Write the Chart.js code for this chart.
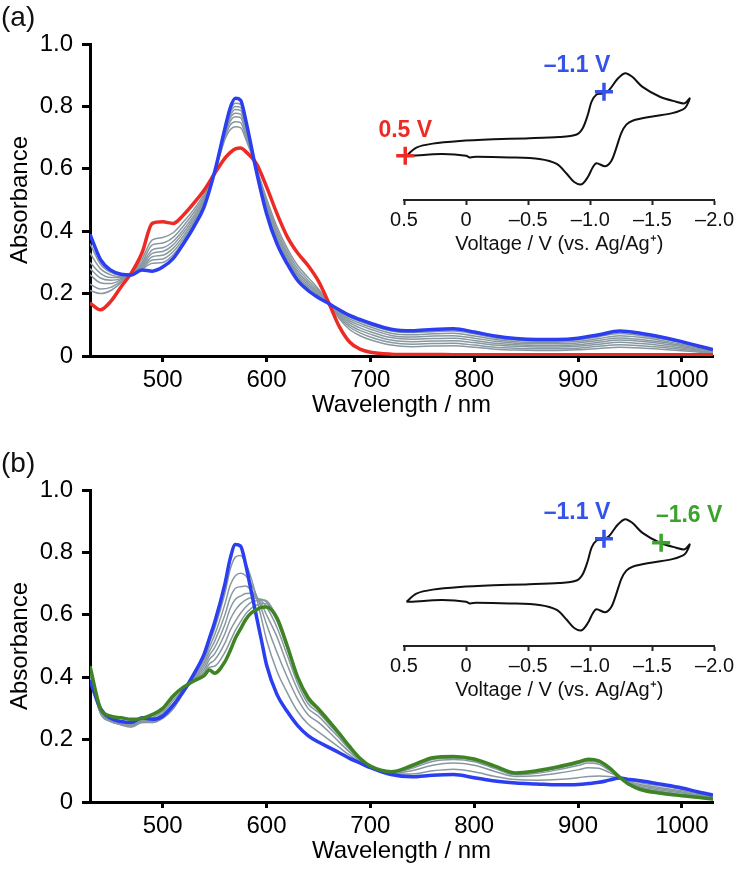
<!DOCTYPE html>
<html>
<head>
<meta charset="utf-8">
<script src="https://cdn.jsdelivr.net/npm/chart.js@4.4.1/dist/chart.umd.min.js"></script>
<style>
  body { margin: 0; background: #fff; width: 737px; height: 870px; position: relative; overflow: hidden;
         font-family: "Liberation Sans", Arial, Helvetica, sans-serif; }
  .panel { position: absolute; left: 0; width: 737px; height: 420px; }
  .panel canvas { position: absolute; }
  .tag { position: absolute; left: 1px; top: 1px; font-size: 28px; line-height: 32px; color: #111; }
</style>
</head>
<body>
<div class="panel" style="top:0">
  <canvas id="mainA" width="737" height="420" style="left:0;top:0"></canvas>
  <canvas id="insetA" width="377" height="220" style="left:360px;top:40px"></canvas>
  <div class="tag">(a)</div>
</div>
<div class="panel" style="top:446px">
  <canvas id="mainB" width="737" height="420" style="left:0;top:0"></canvas>
  <canvas id="insetB" width="377" height="220" style="left:360px;top:40px"></canvas>
  <div class="tag">(b)</div>
</div>
<script>
const FONT = '"Liberation Sans", Arial, Helvetica, sans-serif';

// axis ticks
const X_TICKS = [500, 600, 700, 800, 900, 1000];
const X_TICK_LABELS = ["500", "600", "700", "800", "900", "1000"];
const Y_TICKS = [0, 0.2, 0.4, 0.6, 0.8, 1.0];
const Y_TICK_LABELS = ["0", "0.2", "0.4", "0.6", "0.8", "1.0"];
const CV_TICKS = [0.5, 0, -0.5, -1, -1.5, -2];
const CV_TICK_LABELS = ["0.5", "0", "\u20130.5", "\u20131.0", "\u20131.5", "\u20132.0"];

// (a) spectra: 0.5 V (red) -> -1.1 V (blue)
const WL_A = [430,440,450,460,470,480,490,500,510,520,530,540,550,560,565,570,575,580,590,600,
  610,620,630,640,650,660,670,680,690,700,720,740,760,780,800,820,840,860,880,900,
  920,940,960,980,1000,1015,1030];
const RED_A = [0.17,0.148,0.175,0.222,0.267,0.33,0.425,0.43,0.425,0.452,0.49,0.532,0.585,0.634,0.652,0.664,0.667,0.655,0.618,0.543,
  0.457,0.382,0.33,0.29,0.24,0.17,0.095,0.045,0.022,0.012,0.006,0.005,0.005,0.004,0.004,0.004,0.004,0.004,0.004,0.004,
  0.004,0.004,0.004,0.004,0.004,0.004,0.004];
const BLUE_A = [0.39,0.31,0.275,0.262,0.26,0.276,0.272,0.285,0.312,0.36,0.414,0.479,0.59,0.73,0.795,0.826,0.82,0.756,0.596,0.457,
  0.36,0.295,0.242,0.21,0.187,0.168,0.148,0.13,0.117,0.105,0.086,0.081,0.085,0.087,0.077,0.064,0.056,0.053,0.053,0.057,
  0.068,0.08,0.073,0.061,0.046,0.033,0.021];
const GRAY_A1 = [0.21,0.2,0.21,0.235,0.265,0.31,0.372,0.38,0.395,0.43,0.47,0.52,0.588,0.695,0.725,0.735,0.732,0.695,0.605,0.505,
  0.415,0.345,0.29,0.252,0.215,0.168,0.12,0.085,0.065,0.052,0.035,0.03,0.032,0.033,0.028,0.022,0.019,0.018,0.018,0.02,
  0.024,0.028,0.026,0.022,0.017,0.013,0.008];
const GRAY_A2 = [0.23,0.215,0.22,0.24,0.264,0.3,0.356,0.362,0.38,0.417,0.46,0.512,0.588,0.7,0.74,0.751,0.748,0.705,0.604,0.495,
  0.404,0.335,0.28,0.243,0.209,0.168,0.125,0.093,0.074,0.061,0.043,0.038,0.04,0.041,0.035,0.028,0.025,0.023,0.023,0.025,
  0.031,0.036,0.033,0.028,0.021,0.016,0.01];
const GRAY_A3 = [0.26,0.235,0.232,0.245,0.263,0.294,0.34,0.347,0.367,0.405,0.45,0.505,0.589,0.706,0.752,0.767,0.764,0.716,0.603,0.487,
  0.394,0.326,0.271,0.235,0.203,0.168,0.13,0.1,0.082,0.07,0.051,0.046,0.048,0.049,0.043,0.035,0.031,0.029,0.029,0.031,
  0.038,0.044,0.04,0.034,0.026,0.019,0.012];
const GRAY_A4 = [0.28,0.25,0.243,0.248,0.262,0.289,0.329,0.335,0.356,0.395,0.442,0.499,0.589,0.711,0.762,0.778,0.775,0.726,0.602,0.48,
  0.385,0.318,0.263,0.228,0.198,0.168,0.134,0.107,0.09,0.078,0.059,0.054,0.056,0.057,0.05,0.041,0.036,0.034,0.034,0.036,
  0.044,0.051,0.047,0.04,0.03,0.022,0.014];
const GRAY_A5 = [0.3,0.265,0.252,0.252,0.262,0.285,0.318,0.323,0.345,0.385,0.434,0.493,0.589,0.716,0.77,0.79,0.787,0.735,0.6,0.473,
  0.377,0.311,0.256,0.222,0.194,0.168,0.138,0.113,0.098,0.086,0.066,0.061,0.064,0.065,0.057,0.047,0.041,0.039,0.039,0.042,
  0.05,0.058,0.053,0.045,0.034,0.025,0.016];
const GRAY_A6 = [0.33,0.28,0.26,0.255,0.261,0.281,0.308,0.311,0.334,0.376,0.427,0.488,0.59,0.72,0.779,0.8,0.797,0.743,0.599,0.467,
  0.37,0.305,0.25,0.217,0.191,0.168,0.141,0.119,0.105,0.093,0.073,0.068,0.071,0.073,0.064,0.053,0.046,0.044,0.044,0.047,
  0.056,0.065,0.06,0.05,0.038,0.028,0.018];
const GRAY_A7 = [0.36,0.295,0.268,0.258,0.26,0.278,0.297,0.3,0.324,0.368,0.42,0.484,0.59,0.725,0.787,0.81,0.807,0.75,0.598,0.462,
  0.364,0.3,0.246,0.213,0.189,0.168,0.145,0.125,0.111,0.099,0.08,0.075,0.078,0.08,0.071,0.058,0.051,0.048,0.048,0.052,
  0.062,0.072,0.066,0.055,0.042,0.03,0.019];

// (b) spectra: -1.1 V (blue) -> -1.6 V (green)
const WL_B = [430,440,450,460,470,480,490,500,510,520,530,540,545,550,560,565,570,575,580,585,
  590,595,600,610,620,630,640,650,660,670,680,690,700,720,740,760,780,800,820,840,
  860,880,900,910,920,930,940,950,960,980,1000,1015,1030];
const BLUE_B = [0.39,0.3,0.268,0.258,0.255,0.27,0.265,0.275,0.31,0.355,0.41,0.475,0.525,0.575,0.7,0.78,0.825,0.82,0.76,0.68,
  0.6,0.52,0.44,0.345,0.29,0.245,0.213,0.192,0.175,0.158,0.14,0.125,0.11,0.088,0.081,0.086,0.088,0.078,0.067,0.061,
  0.058,0.055,0.056,0.059,0.063,0.07,0.077,0.072,0.068,0.057,0.045,0.033,0.022];
const GREEN_B = [0.435,0.3,0.275,0.27,0.265,0.268,0.28,0.3,0.34,0.368,0.388,0.405,0.423,0.413,0.45,0.485,0.525,0.555,0.585,0.605,
  0.615,0.624,0.625,0.59,0.5,0.4,0.335,0.298,0.26,0.22,0.178,0.14,0.115,0.097,0.117,0.142,0.146,0.138,0.115,0.093,
  0.1,0.112,0.128,0.137,0.132,0.11,0.08,0.055,0.04,0.028,0.02,0.015,0.009];
const GRAY_B1 = [0.4,0.285,0.258,0.25,0.245,0.262,0.258,0.27,0.3,0.352,0.405,0.465,0.51,0.555,0.67,0.745,0.785,0.79,0.765,0.72,
  0.66,0.59,0.52,0.42,0.35,0.29,0.25,0.225,0.2,0.175,0.15,0.128,0.112,0.09,0.09,0.1,0.105,0.097,0.082,0.072,
  0.07,0.072,0.078,0.082,0.083,0.082,0.078,0.07,0.062,0.052,0.041,0.03,0.02];
const GRAY_B2 = [0.41,0.285,0.258,0.248,0.242,0.258,0.255,0.268,0.298,0.35,0.4,0.455,0.497,0.535,0.635,0.695,0.725,0.733,0.725,0.7,
  0.665,0.62,0.57,0.48,0.4,0.33,0.28,0.255,0.225,0.192,0.16,0.132,0.113,0.092,0.1,0.118,0.125,0.118,0.098,0.082,
  0.084,0.092,0.103,0.11,0.108,0.095,0.079,0.066,0.056,0.046,0.036,0.027,0.018];
const GRAY_B3 = [0.415,0.29,0.26,0.247,0.24,0.255,0.255,0.27,0.3,0.35,0.397,0.445,0.483,0.515,0.6,0.655,0.685,0.69,0.692,0.68,
  0.66,0.635,0.6,0.53,0.44,0.36,0.3,0.275,0.24,0.205,0.168,0.135,0.114,0.094,0.108,0.13,0.136,0.129,0.107,0.087,
  0.092,0.103,0.117,0.125,0.121,0.102,0.079,0.062,0.052,0.042,0.032,0.024,0.016];
const GRAY_B4 = [0.42,0.29,0.262,0.248,0.242,0.255,0.257,0.275,0.305,0.352,0.395,0.435,0.47,0.495,0.57,0.62,0.65,0.66,0.668,0.669,
  0.655,0.645,0.625,0.56,0.47,0.38,0.315,0.287,0.25,0.212,0.173,0.137,0.114,0.095,0.112,0.136,0.141,0.134,0.111,0.09,
  0.096,0.108,0.123,0.131,0.127,0.106,0.08,0.06,0.048,0.038,0.029,0.021,0.014];
const GRAY_B5 = [0.425,0.29,0.265,0.25,0.245,0.258,0.26,0.28,0.315,0.355,0.393,0.425,0.457,0.475,0.54,0.585,0.615,0.635,0.648,0.655,
  0.652,0.65,0.64,0.58,0.49,0.395,0.325,0.295,0.256,0.217,0.176,0.139,0.115,0.096,0.114,0.139,0.143,0.136,0.113,0.091,
  0.098,0.11,0.126,0.134,0.13,0.108,0.08,0.058,0.045,0.034,0.025,0.019,0.012];
const GRAY_B6 = [0.43,0.295,0.268,0.255,0.25,0.26,0.265,0.285,0.325,0.36,0.391,0.417,0.443,0.455,0.51,0.55,0.58,0.605,0.625,0.64,
  0.645,0.648,0.645,0.59,0.5,0.4,0.33,0.3,0.26,0.22,0.178,0.14,0.115,0.097,0.116,0.141,0.145,0.137,0.114,0.092,
  0.099,0.111,0.127,0.136,0.131,0.109,0.08,0.057,0.043,0.031,0.022,0.017,0.011];
const GRAY_B7 = [0.432,0.295,0.27,0.26,0.255,0.263,0.27,0.292,0.333,0.365,0.39,0.41,0.432,0.435,0.48,0.515,0.55,0.578,0.603,0.62,
  0.63,0.636,0.635,0.595,0.503,0.403,0.333,0.302,0.262,0.222,0.18,0.141,0.116,0.097,0.117,0.142,0.146,0.138,0.115,0.093,
  0.1,0.112,0.128,0.137,0.132,0.11,0.08,0.056,0.041,0.029,0.021,0.016,0.01];

// cyclic voltammogram (arbitrary current units)
const CV_V = [0.48,0.40,0.27,0.05,-0.22,-0.48,-0.75,-0.89,-0.94,-0.98,-1.01,-1.05,-1.10,-1.15,-1.22,-1.28,-1.34,-1.42,-1.56,-1.69,
  -1.76,-1.80,-1.76,-1.66,-1.50,-1.34,-1.29,-1.25,-1.21,-1.17,-1.12,-1.05,-1.02,-0.98,-0.93,-0.87,-0.81,-0.73,-0.59,-0.35,
  -0.08,-0.03,0.00,0.19,0.32,0.43,0.48];
const CV_I = [1.35,1.60,1.72,1.80,1.85,1.88,1.92,2.00,2.20,2.60,3.00,3.22,3.25,3.35,3.70,3.87,3.75,3.45,3.15,3.00,
  2.95,3.10,2.80,2.65,2.55,2.42,2.30,2.05,1.60,1.20,1.03,1.12,1.00,0.70,0.48,0.55,0.80,1.10,1.25,1.30,
  1.32,1.30,1.35,1.40,1.38,1.35,1.35];

// potential markers
const MARK_A_V = [0.49, -1.11];
const MARK_A_I = [1.35, 3.30];
const MARK_A_TEXT = ["0.5 V", "\u20131.1 V"];
const MARK_B_V = [-1.11, -1.57];
const MARK_B_I = [3.27, 3.15];
const MARK_B_TEXT = ["\u20131.1 V", "\u20131.6 V"];

const RED = "#ec2b25";
const BLUE = "#2b3ff0";
const BLUE_LBL = "#3553ea";
const GREEN = "#3f8424";
const GREEN_LBL = "#3ca32c";
const GRAY = "#8898a0";

Chart.defaults.font.family = FONT;

function pts(xs, ys) {
  return xs.map((x, i) => ({ x: x, y: ys[i] }));
}

function pickLabel(ticks, labels) {
  return (v) => {
    const i = ticks.findIndex(t => Math.abs(t - v) < 1e-9);
    return i >= 0 ? labels[i] : "";
  };
}

function spectrumChart(id, wl, curves) {
  const datasets = curves.map(c => ({
    data: pts(wl, c.y),
    borderColor: c.color,
    borderWidth: c.width,
    order: c.order,
    pointRadius: 0,
    fill: false,
    cubicInterpolationMode: "monotone"
  }));
  new Chart(document.getElementById(id), {
    type: "line",
    data: { datasets: datasets },
    options: {
      responsive: false,
      animation: false,
      events: [],
      layout: { padding: { left: 0, right: 24, top: 44, bottom: 0 } },
      plugins: { legend: { display: false }, tooltip: { enabled: false } },
      scales: {
        x: {
          type: "linear", min: 430, max: 1030,
          afterBuildTicks: s => { s.ticks = X_TICKS.map(v => ({ value: v })); },
          afterFit: s => { s.height = 64; },
          grid: { drawOnChartArea: false, drawTicks: true, tickLength: 6, tickWidth: 3, tickColor: "#000" },
          border: { display: true, color: "#000", width: 3 },
          ticks: { color: "#000", font: { size: 24 }, padding: 4, maxRotation: 0, autoSkip: false,
                   callback: pickLabel(X_TICKS, X_TICK_LABELS) },
          title: { display: true, text: "Wavelength / nm", color: "#000", font: { size: 24 }, padding: { top: 0, bottom: 0 } }
        },
        y: {
          type: "linear", min: 0, max: 1,
          afterBuildTicks: s => { s.ticks = Y_TICKS.map(v => ({ value: v })); },
          afterFit: s => { s.width = 90; },
          grid: { drawOnChartArea: false, drawTicks: true, tickLength: 8, tickWidth: 3, tickColor: "#000" },
          border: { display: true, color: "#000", width: 3 },
          ticks: { color: "#000", font: { size: 24 }, padding: 9, callback: pickLabel(Y_TICKS, Y_TICK_LABELS) },
          title: { display: true, text: "Absorbance", color: "#000", font: { size: 24 }, padding: { top: 6, bottom: 0 } }
        }
      }
    }
  });
}

const cvLabels = {
  id: "cvLabels",
  afterDatasetsDraw(chart, args, opts) {
    const ctx = chart.ctx;
    const x = chart.scales.x, y = chart.scales.y;
    ctx.save();
    ctx.font = "bold 23px " + FONT;
    ctx.textAlign = "center";
    ctx.textBaseline = "middle";
    opts.marks.forEach(m => {
      ctx.fillStyle = m.color;
      ctx.fillText(m.text, x.getPixelForValue(m.v) + m.dx, y.getPixelForValue(m.i) + m.dy);
    });
    ctx.restore();
  }
};

function cvChart(id, markV, markI, markText, markColors, offsets) {
  const marks = markV.map((v, i) => ({
    v: v, i: markI[i], text: markText[i], color: markColors[i], dx: offsets[i][0], dy: offsets[i][1]
  }));
  new Chart(document.getElementById(id), {
    type: "line",
    data: {
      datasets: [
        {
          data: pts(markV, markI),
          showLine: false,
          pointStyle: "cross",
          pointRadius: 9,
          pointBorderWidth: 3.5,
          pointBorderColor: markColors,
          clip: false,
          order: 0
        },
        {
          data: pts(CV_V, CV_I),
          borderColor: "#111",
          borderWidth: 2,
          pointRadius: 0,
          tension: 0.3,
          fill: false,
          order: 1
        }
      ]
    },
    options: {
      responsive: false,
      animation: false,
      events: [],
      layout: { padding: { left: 44, right: 22, top: 10, bottom: 0 } },
      plugins: { legend: { display: false }, tooltip: { enabled: false }, cvLabels: { marks: marks } },
      scales: {
        x: {
          type: "linear", min: -2, max: 0.5, reverse: true,
          afterBuildTicks: s => { s.ticks = CV_TICKS.map(v => ({ value: v })); },
          afterFit: s => { s.height = 60; },
          grid: { drawOnChartArea: false, drawTicks: true, tickLength: 5, tickWidth: 2, tickColor: "#222" },
          border: { display: true, color: "#222", width: 2 },
          ticks: { color: "#111", font: { size: 20 }, padding: 3, maxRotation: 0, autoSkip: false,
                   callback: pickLabel(CV_TICKS, CV_TICK_LABELS) },
          title: { display: true, text: "Voltage / V (vs. Ag/Ag\u207A)", color: "#111", font: { size: 20 },
                   padding: { top: 0, bottom: 4 } }
        },
        y: { type: "linear", min: 0, max: 4.5, display: false }
      }
    },
    plugins: [cvLabels]
  });
}

spectrumChart("mainA", WL_A, [
  { y: GRAY_A1, color: GRAY, width: 1.5, order: 2 },
  { y: GRAY_A2, color: GRAY, width: 1.5, order: 2 },
  { y: GRAY_A3, color: GRAY, width: 1.5, order: 2 },
  { y: GRAY_A4, color: GRAY, width: 1.5, order: 2 },
  { y: GRAY_A5, color: GRAY, width: 1.5, order: 2 },
  { y: GRAY_A6, color: GRAY, width: 1.5, order: 2 },
  { y: GRAY_A7, color: GRAY, width: 1.5, order: 2 },
  { y: RED_A, color: RED, width: 3.5, order: 1 },
  { y: BLUE_A, color: BLUE, width: 3.5, order: 0 }
]);

spectrumChart("mainB", WL_B, [
  { y: GRAY_B1, color: GRAY, width: 1.5, order: 2 },
  { y: GRAY_B2, color: GRAY, width: 1.5, order: 2 },
  { y: GRAY_B3, color: GRAY, width: 1.5, order: 2 },
  { y: GRAY_B4, color: GRAY, width: 1.5, order: 2 },
  { y: GRAY_B5, color: GRAY, width: 1.5, order: 2 },
  { y: GRAY_B6, color: GRAY, width: 1.5, order: 2 },
  { y: GRAY_B7, color: GRAY, width: 1.5, order: 2 },
  { y: BLUE_B, color: BLUE, width: 3.5, order: 1 },
  { y: GREEN_B, color: GREEN, width: 3.5, order: 0 }
]);

cvChart("insetA", MARK_A_V, MARK_A_I, MARK_A_TEXT, [RED, BLUE_LBL], [[0, -25], [-27, -26]]);
cvChart("insetB", MARK_B_V, MARK_B_I, MARK_B_TEXT, [BLUE_LBL, GREEN_LBL], [[-27, -26], [28, -27]]);
</script>
</body>
</html>
